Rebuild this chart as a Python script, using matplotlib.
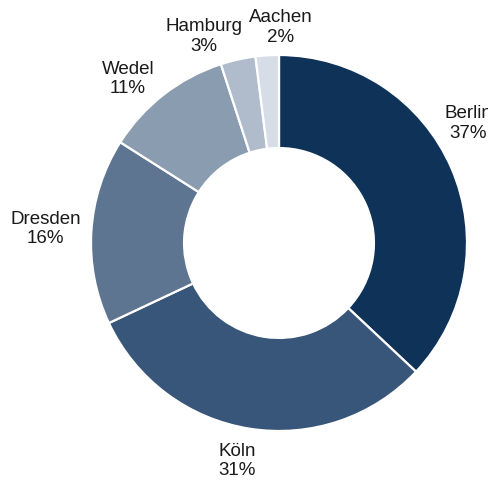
import numpy as np
import matplotlib
matplotlib.use("Agg")
import matplotlib.pyplot as plt

cities = ["Berlin", "Köln", "Dresden", "Wedel", "Hamburg", "Aachen"]
shares = [37, 31, 16, 11, 3, 2]
colors = ["#0f3258", "#38557a", "#5e7592", "#8a9cb0", "#b0bccb", "#d6dde6"]

# label placement (angle in degrees, radius in units of outer radius)
label_angles = [32.3, -100.9, 176.6, 132.6, 110, 89.5]
label_radii = [1.19, 1.18, 1.245, 1.186, 1.17, 1.145]

W, H = 488, 482
cx, cy, R = 279, 243, 188

fig = plt.figure(figsize=(W / 100, H / 100), dpi=100)
ax = fig.add_axes([0, 0, 1, 1])
ax.pie(shares, colors=colors, startangle=90, counterclock=False,
       wedgeprops=dict(width=0.495, edgecolor="white", linewidth=1.6))
ax.set_xlim(-cx / R, (W - cx) / R)
ax.set_ylim(-(H - cy) / R, cy / R)
ax.set_aspect("auto")
ax.axis("off")

for name, s, a, r in zip(cities, shares, label_angles, label_radii):
    t = np.deg2rad(a)
    ax.text(r * np.cos(t), r * np.sin(t), f"{name}\n{s}%", ha="center", va="center",
            fontsize=13.5, family=["Liberation Sans", "DejaVu Sans"], color="#1a1a1a",
            linespacing=1.2)

fig.savefig("out.png", dpi=100)
